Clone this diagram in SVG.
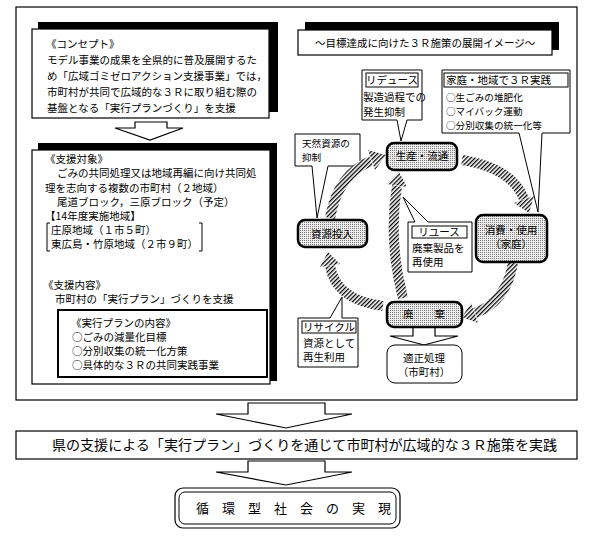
<svg xmlns="http://www.w3.org/2000/svg" width="600" height="545" viewBox="0 0 600 545">
<defs>
<style>
.t{font-family:"Noto Sans CJK JP","Noto Sans",sans-serif;font-size:10.5px;fill:#000}
.s{font-size:9.6px}
.tc{text-anchor:middle}
.box{fill:#fff;stroke:#000;stroke-width:1.2}
.thin{fill:#fff;stroke:#000;stroke-width:1}
.shadow{fill:#000}
.node{fill:url(#dots);stroke:#000;stroke-width:2.5}
.band{fill:none;stroke:url(#hatch);stroke-width:10}
.head{fill:url(#hatch)}
.big{fill:#fff;stroke:#000;stroke-width:1.2}
</style>
<pattern id="hatch" patternUnits="userSpaceOnUse" width="3" height="3" patternTransform="rotate(45)">
<rect width="3" height="3" fill="#fff"/>
<rect width="1.3" height="3" fill="#000"/>
</pattern>
<pattern id="dots" patternUnits="userSpaceOnUse" width="2" height="2">
<rect width="2" height="2" fill="#eee"/>
<rect width="1" height="1" fill="#777"/>
</pattern>
</defs>
<rect width="600" height="545" fill="#fff"/>

<g id="frame"><rect class="box" x="16" y="7" width="561" height="393"/></g>

<g id="concept">
<rect class="shadow" x="38" y="22" width="240" height="90"/>
<rect class="box" x="32" y="29" width="237" height="89"/>
<text class="t" x="46" y="48">《コンセプト》</text>
<text class="t" x="47" y="64">モデル事業の成果を全県的に普及展開するた</text>
<text class="t" x="47" y="80">め「広域ゴミゼロアクション支援事業」では，</text>
<text class="t" x="47" y="96">市町村が共同で広域的な３Ｒに取り組む際の</text>
<text class="t" x="47" y="112">基盤となる「実行プランづくり」を支援</text>
</g>

<g id="support">
<rect class="shadow" x="38" y="143" width="239" height="238"/>
<rect class="box" x="32" y="150" width="238" height="234"/>
<text class="t" x="45" y="163">《支援対象》</text>
<text class="t" x="57" y="177">ごみの共同処理又は地域再編に向け共同処</text>
<text class="t" x="45" y="192">理を志向する複数の市町村（２地域）</text>
<text class="t" x="57" y="206">尾道ブロック，三原ブロック（予定）</text>
<text class="t" x="45" y="220">【14年度実施地域】</text>
<path d="M50 223 H47 V251 H50 M199 223 H202 V251 H199" fill="none" stroke="#000" stroke-width="1"/>
<text class="t" x="51" y="234">庄原地域（１市５町）</text>
<text class="t" x="51" y="248">東広島・竹原地域（２市９町）</text>
<text class="t" x="43" y="289">《支援内容》</text>
<text class="t" x="55" y="303">市町村の「実行プラン」づくりを支援</text>
</g>

<g id="plan">
<rect x="58" y="310" width="209" height="67" fill="#fff" stroke="#000" stroke-width="2"/>
<text class="t" x="71" y="327">《実行プランの内容》</text>
<text class="t" x="72" y="341">○ごみの減量化目標</text>
<text class="t" x="72" y="355">○分別収集の統一化方策</text>
<text class="t" x="72" y="369">○具体的な３Ｒの共同実践事業</text>
</g>

<g id="title">
<rect class="shadow" x="305" y="22" width="254" height="28"/>
<rect class="box" x="298" y="30" width="254" height="25"/>
<text class="t" x="315" y="47">～目標達成に向けた３Ｒ施策の展開イメージ～</text>
</g>

<g id="reduce">
<path class="thin" d="M362 70 H422 V120 H407 L401 141 L397 120 H362 Z"/>
<rect class="thin" x="366" y="73" width="52" height="14"/>
<text class="t tc" x="392" y="84">リデュース</text>
<text class="t" x="363" y="101">製造過程での</text>
<text class="t" x="363" y="116">発生抑制</text>
</g>

<g id="home">
<path class="thin" d="M442 70 H570 V133 H542 L538 212 L519 133 H442 Z"/>
<rect class="thin" x="444" y="73" width="124" height="14"/>
<text class="t" x="446" y="84">家庭・地域で３Ｒ実践</text>
<text class="t s" x="446" y="101">○生ごみの堆肥化</text>
<text class="t s" x="446" y="115">○マイバック運動</text>
<text class="t s" x="446" y="129">○分別収集の統一化等</text>
</g>

<g id="natural">
<path class="thin" d="M295 134 H360 V166 H328 L317 218 L312 166 H295 Z"/>
<text class="t s" x="302" y="147">天然資源の</text>
<text class="t s" x="302" y="161">抑制</text>
</g>

<g id="reuse">
<path class="thin" d="M408 222 H415 L403 197 L428 222 H472 V272 H408 Z"/>
<rect class="thin" x="412" y="226" width="55" height="12"/>
<text class="t tc" x="439" y="236">リユース</text>
<text class="t" x="412" y="252">廃棄製品を</text>
<text class="t" x="412" y="266">再使用</text>
</g>

<g id="recycle">
<path class="thin" d="M298 318 H330 L342 297 L342 318 H358 V367 H298 Z"/>
<rect class="thin" x="302" y="321" width="54" height="12"/>
<text class="t tc" x="329" y="331">リサイクル</text>
<text class="t" x="303" y="347">資源として</text>
<text class="t" x="303" y="361">再生利用</text>
</g>

<g id="connectors">
<path class="band" d="M330 218 Q338 174 371 161"/>
<polygon class="head" points="386,155 375,170 368,150"/>
<path class="band" d="M462 160 Q512 168 524 199"/>
<polygon class="head" points="529,213 534,196 514,203"/>
<path class="band" d="M513 263 Q506 302 475 313"/>
<polygon class="head" points="462,317 478,323 471,303"/>
<path class="band" d="M383 306 Q336 300 330 266"/>
<polygon class="head" points="328,252 340,264 320,267"/>
<path class="band" d="M403 298 Q388 240 397 186"/>
<polygon class="head" points="399,172 407,187 387,184"/>
<polygon class="big" points="413,327 435,327 435,336 458,336 424,345 390,336 413,336"/>
<polygon class="big" points="135,122 167,122 167,128 183,128 150,140 115,128 135,128"/>
<polygon class="big" points="248,403 325,403 325,414 352,414 286,428 216,414 248,414"/>
<polygon class="big" points="248,461 325,461 325,472 352,472 286,485 216,472 248,472"/>
</g>

<g id="n-production">
<rect class="node" x="387" y="143" width="70" height="27" rx="7"/>
<text class="t tc" x="422" y="160">生産・流通</text>
</g>
<g id="n-input">
<rect class="node" x="298" y="220" width="69" height="27" rx="7"/>
<text class="t tc" x="332" y="238">資源投入</text>
</g>
<g id="n-consume">
<rect class="node" x="476" y="215" width="71" height="47" rx="7"/>
<text class="t tc" x="511" y="234">消費・使用</text>
<text class="t tc" x="511" y="248">（家庭）</text>
</g>
<g id="n-waste">
<rect class="node" x="387" y="302" width="75" height="25" rx="7"/>
<text class="t tc" x="424" y="318">廃　　棄</text>
</g>
<g id="n-disposal">
<rect class="thin" x="387" y="345" width="75" height="38" rx="8"/>
<text class="t tc" x="424" y="362">適正処理</text>
<text class="t tc" x="424" y="376">（市町村）</text>
</g>

<g id="practice">
<rect class="box" x="16" y="431" width="561" height="28"/>
<text class="t" x="52" y="450" style="font-size:13.6px" textLength="505" lengthAdjust="spacingAndGlyphs">県の支援による「実行プラン」づくりを通じて市町村が広域的な３Ｒ施策を実践</text>
</g>

<g id="goal">
<rect x="175" y="488" width="225" height="40" rx="8" fill="#fff" stroke="#000" stroke-width="1.2"/>
<rect x="179" y="492" width="217" height="32" rx="6" fill="none" stroke="#000" stroke-width="1"/>
<text class="t" x="196" y="513" style="font-size:13px;letter-spacing:13px">循環型社会の実現</text>
</g>
</svg>
